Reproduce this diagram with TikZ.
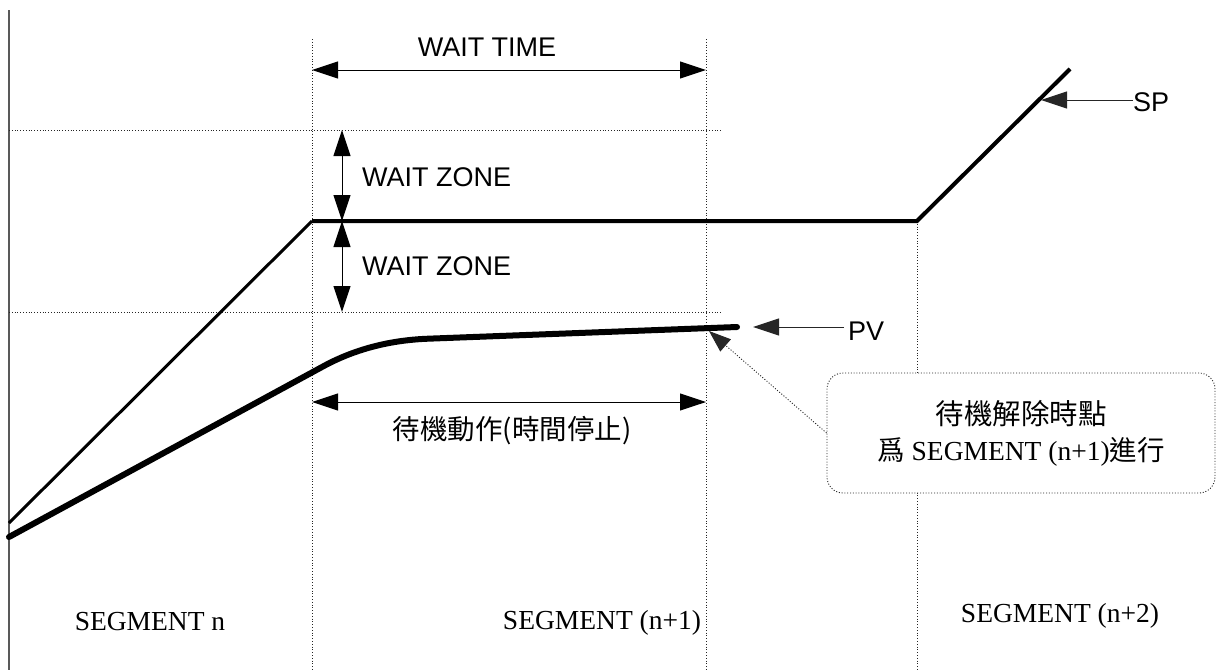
\documentclass[tikz,border=0pt]{standalone}
\usepackage{fontspec}
\setmainfont{Liberation Serif}
\newfontfamily\sansf{Liberation Sans}
\newfontfamily\cjk{Noto Sans CJK TC}
\usetikzlibrary{arrows.meta}
\begin{document}
\begin{tikzpicture}[x=1pt,y=-1pt,
  guide/.style={draw=black!85, line width=0.9pt, dash pattern=on 1pt off 1.8pt},
  dimarrow/.style={line width=1pt, {Triangle[length=26pt,width=17pt]}-{Triangle[length=26pt,width=17pt]}},
  leadarrow/.style={line width=1pt, draw=black!85, -{Triangle[length=26pt,width=17pt]}},
  lbl/.style={font=\sansf\fontsize{27}{32}\selectfont, inner sep=0pt},
  seglbl/.style={font=\fontsize{27.5}{32}\selectfont, inner sep=0pt, anchor=base},
  cjklbl/.style={font=\cjk\fontsize{27.5}{34}\selectfont, inner sep=0pt},
  notebox/.style={draw=black!85, line width=0.9pt, dash pattern=on 1pt off 1.8pt, rounded corners=16pt, fill=white,
    minimum width=388pt, minimum height=120pt, align=center, font=\fontsize{27.5}{36}\selectfont},
  spline/.style={line width=4pt, line join=miter},
  pvline/.style={line width=6pt, line cap=round, line join=round}
]
\useasboundingbox (0,0) rectangle (1222,670);

% coordinates
\coordinate (ax0) at (9,10);
\coordinate (ax1) at (9,670);
\coordinate (g1a) at (9,130);   \coordinate (g1b) at (722,130);
\coordinate (g2a) at (9,312);   \coordinate (g2b) at (722,312);
\coordinate (v1a) at (312,39);  \coordinate (v1b) at (312,670);
\coordinate (v2a) at (706,39);  \coordinate (v2b) at (706,670);
\coordinate (v3b) at (917,670);
\coordinate (sp0) at (9,523);
\coordinate (sp1) at (312,221);
\coordinate (sp2) at (917,221);
\coordinate (sp3) at (1070,69);
\coordinate (pv0) at (9,537);
\coordinate (pv1) at (322,367);
\coordinate (pv2) at (428,338.7);
\coordinate (pv3) at (737,327);
\coordinate (wt1) at (312,70);  \coordinate (wt2) at (706,70);
\coordinate (wzt) at (342,130); \coordinate (wzm) at (342,221); \coordinate (wzb) at (342,312);
\coordinate (ac1) at (312,402); \coordinate (ac2) at (706,402);
\coordinate (sptip) at (1041,100);
\coordinate (pvtip) at (753,327);
\coordinate (notetip) at (709,331);

% axis and guides
\draw[black!65, line width=1.5pt] (ax0) -- (ax1);
\draw[guide] (g1a) -- (g1b);
\draw[guide] (g2a) -- (g2b);
\draw[guide] (v1a) -- (v1b);
\draw[guide] (v2a) -- (v2b);
\draw[guide] (sp2) -- (v3b);

% SP
\draw[line width=3pt] (sp0) -- (sp1);
\draw[spline] (sp1) -- (sp2) -- (sp3);

% PV
\draw[pvline] (pv0) -- (pv1) .. controls (353.3,349.7) and (388.7,340.2) .. (pv2) -- (pv3);

% dimension arrows
\draw[dimarrow] (wt1) -- (wt2);
\draw[dimarrow] (wzt) -- (wzm);
\draw[dimarrow] (wzm) -- (wzb);
\draw[dimarrow] (ac1) -- (ac2);

% labels
\node[lbl] (wt) at (487,47) {WAIT TIME};
\node[lbl, anchor=west] (wz1) at (362,177) {WAIT ZONE};
\node[lbl, anchor=west] (wz2) at (362,266) {WAIT ZONE};
\node[lbl, anchor=west] (sp) at (1133,102) {SP};
\node[lbl, anchor=west] (pv) at (848,331) {PV};
\draw[leadarrow] (sp.west |- sptip) -- (sptip);
\draw[leadarrow] ([xshift=-4pt]pv.west |- pvtip) -- (pvtip);

\node[cjklbl] (act) at (512,431) {待機動作(時間停止)};

% note box
\node[notebox] (note) at (1021,433) {{\cjk\fontsize{28.5}{36}\selectfont 待機解除時點}\\{\cjk 爲} SEGMENT (n+1){\cjk 進行}};
\draw[guide, -{Triangle[length=22pt,width=16pt]}] (note.west) -- (notetip);

% segment labels
\node[seglbl] (s1) at (150,630) {SEGMENT n};
\node[seglbl] (s2) at (602,629) {SEGMENT (n+1)};
\node[seglbl] (s3) at (1060,622) {SEGMENT (n+2)};
\end{tikzpicture}
\end{document}
